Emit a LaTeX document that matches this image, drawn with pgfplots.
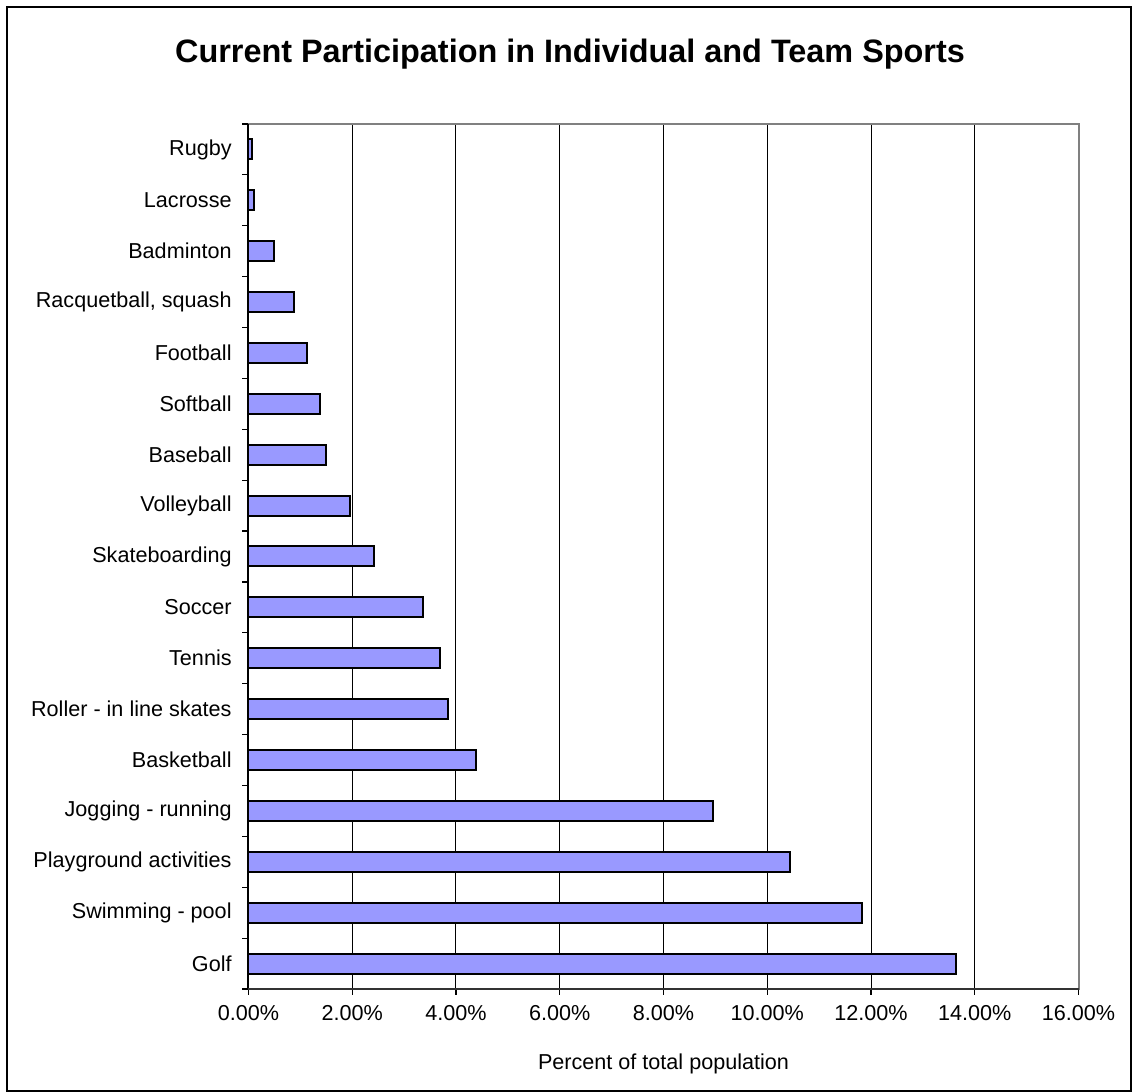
\documentclass[border=0pt]{standalone}
\usepackage{fontspec}
\setmainfont{Liberation Sans}
\usepackage{pgfplots}
\pgfplotsset{compat=1.18}
\definecolor{barblue}{RGB}{153,153,255}
\definecolor{framegray}{RGB}{128,128,128}
\begin{document}
\begin{tikzpicture}
\useasboundingbox (0,0) rectangle (566pt,546pt);
\draw[line width=0.8pt] (3.5pt,0.5pt) rectangle (565.5pt,542.5pt);
\node[font=\bfseries\fontsize{16.2}{19}\selectfont] at (285pt,519pt) {Current Participation in Individual and Team Sports};
\begin{axis}[
  at={(124.25pt,51.5pt)}, anchor=south west,
  scale only axis, width=415pt, height=432.5pt,
  xmin=0, xmax=16, ymin=-0.5, ymax=16.5,
  xbar, bar width=10pt,
  axis line style={draw=framegray, line width=1pt},
  xtick={0,2,...,16},
  xticklabels={0.00\%,2.00\%,4.00\%,6.00\%,8.00\%,10.00\%,12.00\%,14.00\%,16.00\%},
  ytick={0,...,16},
  yticklabels={Golf,Swimming - pool,Playground activities,Jogging - running,Basketball,Roller - in line skates,Tennis,Soccer,Skateboarding,Volleyball,Baseball,Softball,Football,{Racquetball, squash},Badminton,Lacrosse,Rugby},
  xtick pos=bottom, ytick pos=left,
  tick label style={font=\fontsize{10.8}{13}\selectfont},
  yticklabel style={anchor=east, inner sep=0pt, xshift=-5.25pt},
  xticklabel style={anchor=north, inner sep=0pt, yshift=-5pt},
  tick align=outside,
  major tick length=3pt,
  x tick style={draw=black, line width=0.6pt},
  y tick style={draw=none},
  extra y ticks={-0.5,0.5,...,16.5},
  extra y tick labels={},
  extra y tick style={y tick style={draw=black, line width=0.6pt}},
  xmajorgrids, grid style={draw=black, line width=0.5pt},
  clip=false,
]
\addplot[fill=barblue, draw=black, line width=1pt] coordinates {
  (13.64,0) (11.82,1) (10.43,2) (8.95,3) (4.39,4) (3.85,5) (3.69,6) (3.36,7)
  (2.42,8) (1.96,9) (1.49,10) (1.37,11) (1.13,12) (0.88,13) (0.50,14) (0.10,15) (0.06,16)
};
\draw[black, line width=1pt] (rel axis cs:0,0) -- (rel axis cs:0,1);
\draw[black!80, line width=1pt] (rel axis cs:0,0) -- (rel axis cs:1,0);
\end{axis}
\node[font=\fontsize{10.8}{13}\selectfont] at (331.75pt,14pt) {Percent of total population};
\end{tikzpicture}
\end{document}
